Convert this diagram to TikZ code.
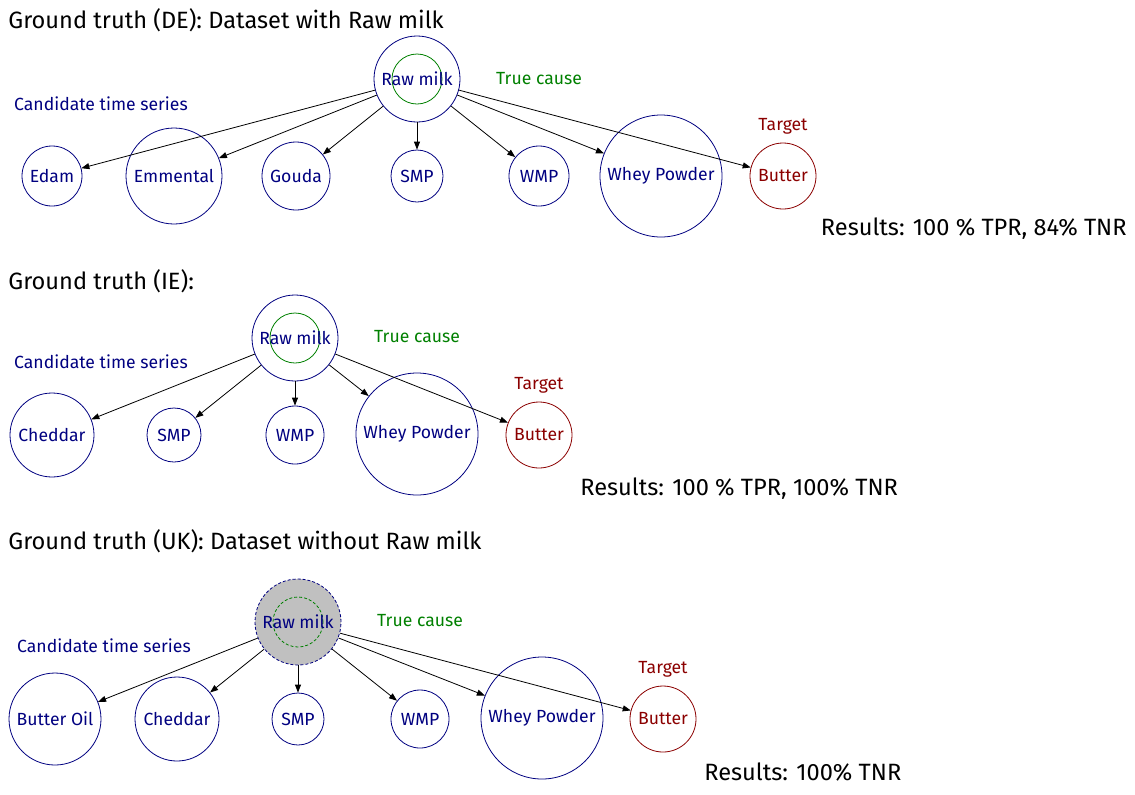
\documentclass[tikz,border=0pt]{standalone}
\usepackage{fontspec}
\setmainfont{Fira Sans}
\usepackage{xcolor}
\usepackage{tikz}
\usetikzlibrary{arrows.meta}
\definecolor{navy}{RGB}{0,0,128}
\definecolor{causegreen}{RGB}{0,128,0}
\definecolor{targetred}{RGB}{139,0,0}
\definecolor{hidden}{RGB}{192,192,192}
\tikzset{
  series/.style={circle, draw=navy, text=navy, inner sep=0pt, font=\fontsize{8.8}{11}\selectfont},
  target/.style={series, draw=targetred, text=targetred},
  cause/.style={series, path picture={\draw[causegreen] (path picture bounding box.center) circle (12.5pt);}},
  dropped/.style={series, fill=hidden, dash pattern=on 1.5pt off 1pt,
    path picture={\draw[causegreen, dash pattern=on 1.5pt off 1pt] (path picture bounding box.center) circle (12.5pt);}},
  heading/.style={anchor=west, inner sep=0pt, font=\fontsize{11.8}{14}\selectfont},
  result/.style={inner sep=0pt, font=\fontsize{11.8}{14}\selectfont},
  cand/.style={text=navy, inner sep=0pt, font=\fontsize{8.8}{11}\selectfont},
  truth/.style={text=causegreen, inner sep=0pt, font=\fontsize{8.8}{11}\selectfont},
  goal/.style={text=targetred, inner sep=0pt, font=\fontsize{8.8}{11}\selectfont},
  edge/.style={-{Triangle[length=4pt,width=3pt]}}
}

\begin{document}
\begin{tikzpicture}[x=0.5pt, y=-0.5pt]
\useasboundingbox (0,0) rectangle (1135,794);

\node[heading] (titleDE) at (8,20) {Ground truth (DE): Dataset with Raw milk};
\node[cause, minimum size=43pt] (rawDE) at (417,79) {Raw milk};
\node[truth] (truthDE) at (539,79) {True cause};
\node[cand] (candDE) at (101,104) {Candidate time series};
\node[series, minimum size=30pt] (edamDE) at (52,176) {Edam};
\node[series, minimum size=48pt] (emmDE) at (174,176) {Emmental};
\node[series, minimum size=34pt] (goudaDE) at (296,176) {Gouda};
\node[series, minimum size=26pt] (smpDE) at (417,176) {SMP};
\node[series, minimum size=30pt] (wmpDE) at (539,176) {WMP};
\node[series, minimum size=61pt] (wheyDE) at (661,176) {Whey Powder};
\node[target, minimum size=33pt] (butterDE) at (783,176) {Butter};
\node[goal] (goalDE) at (783,126) {Target};
\node[result, anchor=east] (resDE) at (1127,229) {Results: 100 \% TPR, 84\% TNR};
\draw[edge] (rawDE) -- (edamDE);
\draw[edge] (rawDE) -- (emmDE);
\draw[edge] (rawDE) -- (goudaDE);
\draw[edge] (rawDE) -- (smpDE);
\draw[edge] (rawDE) -- (wmpDE);
\draw[edge] (rawDE) -- (wheyDE);
\draw[edge] (rawDE) -- (butterDE);

\node[heading] (titleIE) at (8,281) {Ground truth (IE):};
\node[cause, minimum size=43pt] (rawIE) at (295,338) {Raw milk};
\node[truth] (truthIE) at (417,337) {True cause};
\node[cand] (candIE) at (101,362) {Candidate time series};
\node[series, minimum size=42pt] (chedIE) at (52,435) {Cheddar};
\node[series, minimum size=27pt] (smpIE) at (174,435) {SMP};
\node[series, minimum size=29pt] (wmpIE) at (295,435) {WMP};
\node[series, minimum size=61pt] (wheyIE) at (417,434) {Whey Powder};
\node[target, minimum size=33pt] (butterIE) at (539,435) {Butter};
\node[goal] (goalIE) at (539,385) {Target};
\node[result, anchor=west] (resIE) at (580,489) {Results: 100 \% TPR, 100\% TNR};
\draw[edge] (rawIE) -- (chedIE);
\draw[edge] (rawIE) -- (smpIE);
\draw[edge] (rawIE) -- (wmpIE);
\draw[edge] (rawIE) -- (wheyIE);
\draw[edge] (rawIE) -- (butterIE);

\node[heading] (titleUK) at (8,541) {Ground truth (UK): Dataset without Raw milk};
\node[dropped, minimum size=43pt] (rawUK) at (298,622) {Raw milk};
\node[truth] (truthUK) at (420,621) {True cause};
\node[cand] (candUK) at (104,646) {Candidate time series};
\node[series, minimum size=46pt] (oilUK) at (55,719) {Butter Oil};
\node[series, minimum size=42pt] (chedUK) at (177,719) {Cheddar};
\node[series, minimum size=26pt] (smpUK) at (298,719) {SMP};
\node[series, minimum size=29pt] (wmpUK) at (420,719) {WMP};
\node[series, minimum size=61pt] (wheyUK) at (542,718) {Whey Powder};
\node[target, minimum size=33pt] (butterUK) at (663,719) {Butter};
\node[goal] (goalUK) at (663,669) {Target};
\node[result, anchor=west] (resUK) at (704,772) {Results: 100\% TNR};
\draw[edge] (rawUK) -- (oilUK);
\draw[edge] (rawUK) -- (chedUK);
\draw[edge] (rawUK) -- (smpUK);
\draw[edge] (rawUK) -- (wmpUK);
\draw[edge] (rawUK) -- (wheyUK);
\draw[edge] (rawUK) -- (butterUK);
\end{tikzpicture}
\end{document}
